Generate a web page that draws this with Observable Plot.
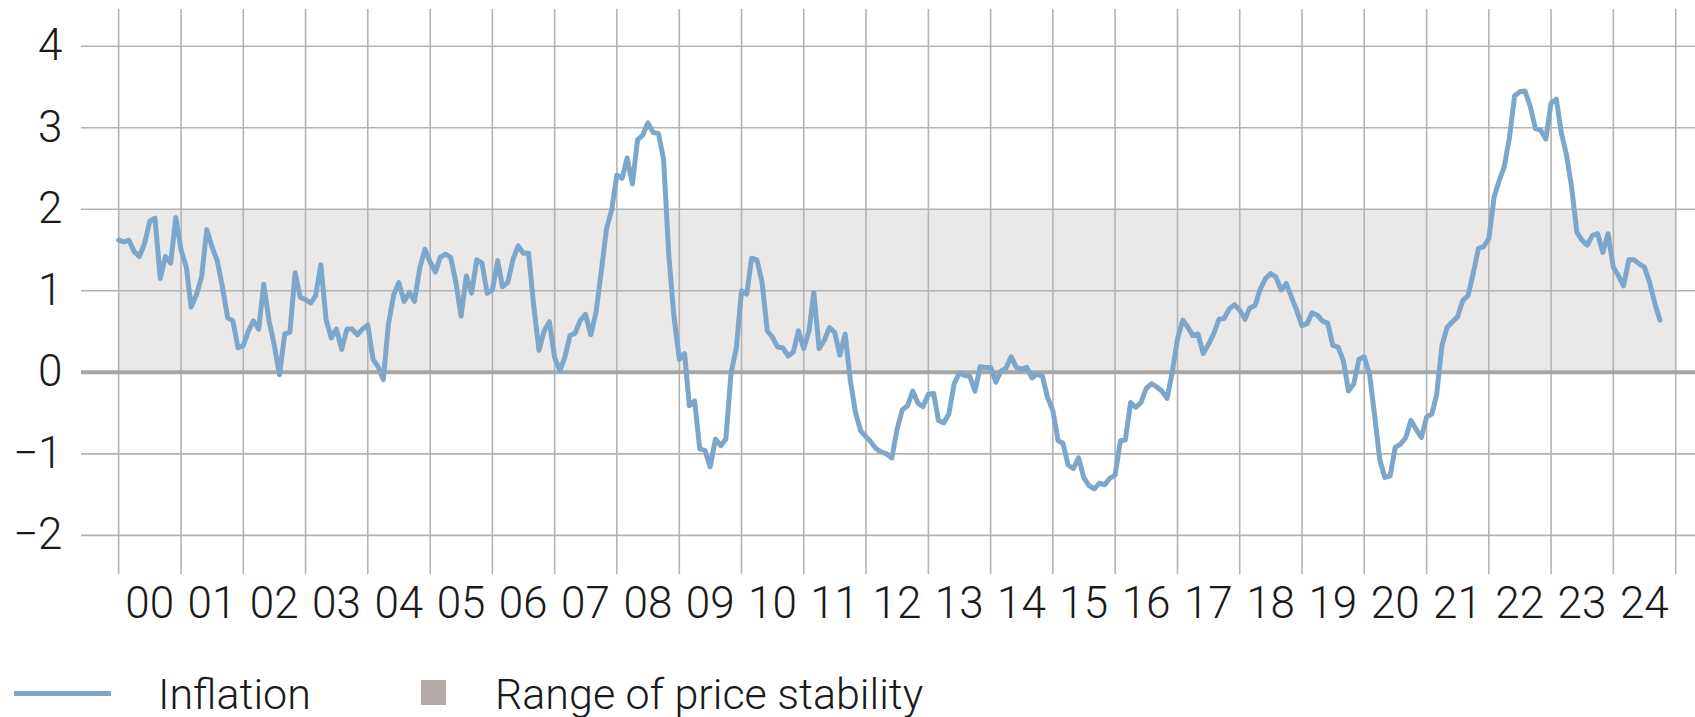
<!DOCTYPE html>
<html>
<head>
<meta charset="utf-8">
<script src="https://cdn.jsdelivr.net/npm/d3@7"></script>
<script src="https://cdn.jsdelivr.net/npm/@observablehq/plot@0.6"></script>
<style>
  html, body { margin: 0; padding: 0; background: #ffffff; }
  body { width: 1695px; height: 717px; overflow: hidden; font-family: Roboto, "Liberation Sans", sans-serif; font-weight: 300; color: #1a1a1a; }
  #chart svg { display: block; }
  #legend { position: relative; width: 1695px; height: 67px; font-size: 43px; }
  #legend .item { position: absolute; top: 10px; height: 67px; display: flex; align-items: center; }
  #legend .line { position: absolute; left: 14px; top: 41px; width: 97px; height: 5px; }
  #legend .square { position: absolute; left: 421px; top: 30px; width: 25px; height: 25px; }
</style>
</head>
<body>
<div id="chart"></div>
<div id="legend"></div>
<script>
// Swiss consumer price inflation, year-on-year change in %, monthly (Jan 2000 – Oct 2024)
const years = d3.range(2000, 2025);
const cpi2000 = [1.62, 1.60, 1.62, 1.48, 1.42, 1.58, 1.85, 1.89, 1.15, 1.42, 1.34, 1.90];
const cpi2001 = [1.50, 1.29, 0.80, 0.95, 1.17, 1.75, 1.54, 1.37, 1.04, 0.67, 0.63, 0.30];
const cpi2002 = [0.33, 0.51, 0.63, 0.53, 1.08, 0.63, 0.34, -0.03, 0.47, 0.49, 1.22, 0.92];
const cpi2003 = [0.89, 0.85, 0.94, 1.32, 0.65, 0.42, 0.53, 0.28, 0.53, 0.53, 0.46, 0.53];
const cpi2004 = [0.58, 0.16, 0.07, -0.09, 0.59, 0.95, 1.10, 0.87, 0.98, 0.87, 1.28, 1.51];
const cpi2005 = [1.35, 1.23, 1.41, 1.45, 1.41, 1.10, 0.69, 1.18, 0.97, 1.38, 1.34, 0.97];
const cpi2006 = [1.01, 1.37, 1.05, 1.10, 1.38, 1.55, 1.46, 1.46, 0.80, 0.27, 0.51, 0.62];
const cpi2007 = [0.18, 0.02, 0.18, 0.45, 0.48, 0.64, 0.71, 0.46, 0.74, 1.23, 1.76, 1.99];
const cpi2008 = [2.42, 2.38, 2.63, 2.31, 2.85, 2.91, 3.06, 2.94, 2.93, 2.61, 1.42, 0.68];
const cpi2009 = [0.16, 0.23, -0.41, -0.35, -0.94, -0.96, -1.16, -0.82, -0.90, -0.82, 0.00, 0.29];
const cpi2010 = [1.00, 0.96, 1.40, 1.38, 1.11, 0.51, 0.43, 0.31, 0.30, 0.20, 0.25, 0.51];
const cpi2011 = [0.29, 0.51, 0.98, 0.29, 0.39, 0.55, 0.49, 0.21, 0.47, -0.10, -0.50, -0.72];
const cpi2012 = [-0.79, -0.86, -0.94, -0.98, -1.00, -1.05, -0.70, -0.46, -0.41, -0.23, -0.38, -0.42];
const cpi2013 = [-0.27, -0.26, -0.59, -0.62, -0.51, -0.14, -0.01, -0.04, -0.05, -0.23, 0.07, 0.06];
const cpi2014 = [0.06, -0.12, 0.01, 0.05, 0.19, 0.06, 0.04, 0.06, -0.07, -0.02, -0.05, -0.31];
const cpi2015 = [-0.47, -0.84, -0.87, -1.14, -1.18, -1.05, -1.29, -1.39, -1.43, -1.36, -1.38, -1.30];
const cpi2016 = [-1.26, -0.84, -0.83, -0.37, -0.43, -0.37, -0.20, -0.14, -0.18, -0.23, -0.32, 0.00];
const cpi2017 = [0.41, 0.64, 0.56, 0.45, 0.47, 0.23, 0.34, 0.47, 0.65, 0.66, 0.78, 0.83];
const cpi2018 = [0.76, 0.65, 0.79, 0.82, 1.02, 1.15, 1.21, 1.17, 1.01, 1.09, 0.92, 0.76];
const cpi2019 = [0.57, 0.60, 0.73, 0.70, 0.63, 0.60, 0.33, 0.31, 0.14, -0.23, -0.14, 0.16];
const cpi2020 = [0.19, -0.02, -0.51, -1.07, -1.29, -1.27, -0.92, -0.88, -0.80, -0.59, -0.70, -0.80];
const cpi2021 = [-0.55, -0.51, -0.27, 0.33, 0.55, 0.62, 0.68, 0.88, 0.94, 1.21, 1.52, 1.54];
const cpi2022 = [1.64, 2.15, 2.34, 2.52, 2.87, 3.39, 3.44, 3.45, 3.26, 2.99, 2.97, 2.86];
const cpi2023 = [3.30, 3.35, 2.95, 2.67, 2.28, 1.72, 1.62, 1.56, 1.68, 1.70, 1.47, 1.70];
const cpi2024 = [1.29, 1.18, 1.06, 1.38, 1.38, 1.33, 1.29, 1.10, 0.84, 0.64];

const series = [cpi2000, cpi2001, cpi2002, cpi2003, cpi2004, cpi2005, cpi2006, cpi2007,
  cpi2008, cpi2009, cpi2010, cpi2011, cpi2012, cpi2013, cpi2014, cpi2015, cpi2016,
  cpi2017, cpi2018, cpi2019, cpi2020, cpi2021, cpi2022, cpi2023, cpi2024];

// Range of price stability (SNB): 0 to 2 %
const stabilityRange = [0, 2];

// Axes
const yTicks = [-2, -1, 0, 1, 2, 3, 4];
const yTickLabels = ["−2", "−1", "0", "1", "2", "3", "4"];
const xTickLabels = ["00","01","02","03","04","05","06","07","08","09","10","11","12",
  "13","14","15","16","17","18","19","20","21","22","23","24"];
const gridYears = d3.range(2000, 2026);

const legendLabels = ["Inflation", "Range of price stability"];

const colors = { line: "#7ca7cb", band: "#ebe9e8", bandSwatch: "#b4aba8", grid: "#b3b3b3", zero: "#a6a6a6", text: "#1a1a1a" };

// Build table
const data = years.flatMap((yr, i) => series[i].map((v, m) => ({ date: new Date(Date.UTC(yr, m, 1)), value: v })));
const utcYear = y => new Date(Date.UTC(y, 0, 1));
const midYear = y => new Date(Date.UTC(y, 6, 1));
const band = [{ x1: utcYear(gridYears[0]), x2: utcYear(gridYears[gridYears.length - 1]), y1: stabilityRange[0], y2: stabilityRange[1] }];

const chart = Plot.plot({
  width: 1695,
  height: 650,
  marginLeft: 81,
  marginRight: 0,
  marginTop: 9,
  marginBottom: 76,
  style: { fontFamily: "Roboto, 'Liberation Sans', sans-serif", fontSize: "44px", fontWeight: 300, color: colors.text, background: "#ffffff" },
  x: { type: "utc", domain: [new Date(Date.UTC(1999, 4, 28)), new Date(Date.UTC(2025, 3, 27))] },
  y: { domain: [-2.48, 4.45] },
  marks: [
    Plot.rect(band, { x1: "x1", x2: "x2", y1: "y1", y2: "y2", fill: colors.band }),
    Plot.ruleY(yTicks.filter(t => t !== 0), { stroke: colors.grid, strokeWidth: 1.6 }),
    Plot.ruleX(gridYears.map(utcYear), { stroke: colors.grid, strokeWidth: 1.6 }),
    Plot.ruleY([0], { stroke: colors.zero, strokeWidth: 4 }),
    Plot.line(data, { x: "date", y: "value", stroke: colors.line, strokeWidth: 5, strokeLinejoin: "round" }),
    Plot.axisY({ ticks: yTicks, tickSize: 0, tickPadding: 19, tickFormat: d => yTickLabels[yTicks.indexOf(d)], fill: colors.text }),
    Plot.axisX({ ticks: years.map(midYear), tickSize: 0, tickPadding: 12, tickFormat: d => xTickLabels[d.getUTCFullYear() - 2000], fill: colors.text })
  ]
});
document.getElementById("chart").appendChild(chart);

// Legend
const legend = document.getElementById("legend");
legend.innerHTML = `
  <div class="line" style="background:${colors.line}"></div>
  <div class="item" style="left:158px">${legendLabels[0]}</div>
  <div class="square" style="background:${colors.bandSwatch}"></div>
  <div class="item" style="left:495px">${legendLabels[1]}</div>`;
</script>
</body>
</html>
